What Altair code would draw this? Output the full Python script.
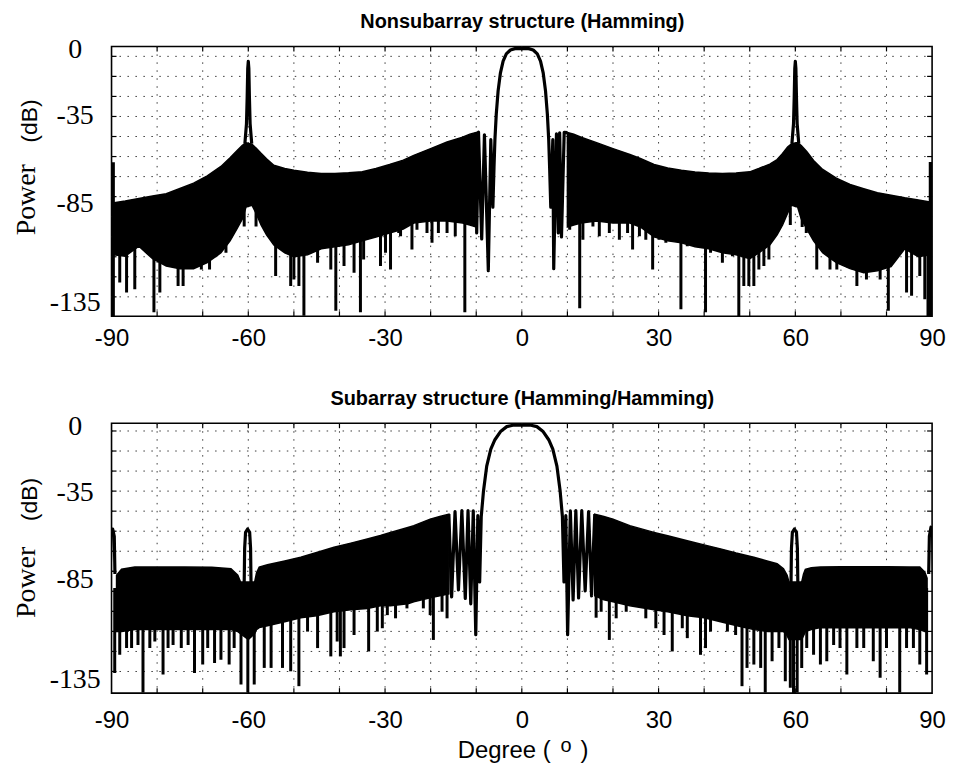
import altair as alt
import pandas as pd

# ---------------- axes ----------------
X_DOMAIN = [-90, 90]
Y_DOMAIN = [-135, 1]
X_LABELS = [-90, -60, -30, 0, 30, 60, 90]
X_GRID = [-80, -70, -60, -50, -40, -30, -20, -10, 0, 10, 20, 30, 40, 50, 60, 70, 80]
Y_LABEL_AT = [-0.8, -34.0, -78.0, -128.0]
Y_LABEL_TEXT = ["0", "-35", "-85", "-135"]
TOP_GRID_DB = [-4.0, -14.1, -24.2, -34.3, -44.4, -54.5, -64.6, -74.7, -84.8, -94.9, -105.0, -115.1, -125.2]
BOT_GRID_DB = [-2.9, -13.0, -23.1, -33.2, -43.3, -53.4, -63.5, -73.6, -83.7, -93.8, -103.9, -114.0, -124.1]

TITLE_TOP = "Nonsubarray structure (Hamming)"
TITLE_BOT = "Subarray structure (Hamming/Hamming)"

# ---------------- nonsubarray pattern ----------------
# dense sidelobe region: upper envelope and lower edge of the solid band
TOP_L_DEG = [-89.4, -87, -84, -81, -78, -75, -72, -69, -66, -64, -62.5, -61.3, -60.5, -59.2, -58.3, -57.2,
             -56, -54.4, -52, -50, -47, -44, -41, -38, -35, -32, -29, -26, -23.7, -20, -16.4, -13, -11.4, -10]
TOP_L_ENV = [-77.8, -76.9, -75.6, -74.4, -73.2, -70.6, -67.9, -64.2, -59.5, -55.1, -51.6, -48.8, -47.6, -48.3,
             -50.2, -52.9, -55.6, -58.9, -60.5, -61.4, -62.4, -63, -63, -62.7, -62.1, -60.5, -58.5, -56.3,
             -53.9, -50.5, -47.2, -44.8, -43.2, -42.4]
TOP_L_FLOOR = [-104, -104.7, -99.7, -106, -109.7, -111, -111, -108, -103, -97, -91, -86, -80, -79, -83, -89,
               -94, -99, -103, -105, -104, -101, -100, -99, -97, -95, -93, -91, -88, -87, -87, -88, -89, -90]
TOP_R_DEG = [10, 11.4, 13, 16.4, 20, 23.7, 26, 29, 32, 35, 38, 41, 44, 47, 50, 52, 54.4, 56, 57.2, 58.3,
             59.2, 60.5, 61.3, 62.5, 64, 66, 69, 72, 75, 78, 81, 84, 87, 89.4]
TOP_R_ENV = [-42.4, -43.3, -44.8, -47.5, -50.5, -53.5, -55.5, -58.5, -60.3, -61.4, -62.3, -62.8, -63, -62.8,
             -62.2, -60.5, -58.3, -56, -53, -49.7, -48, -47.5, -49, -52, -56.5, -61, -65.4, -68.6, -70.7,
             -72.7, -74, -75.3, -76.4, -77.4]
TOP_R_FLOOR = [-90, -89, -88, -87, -88, -88, -90, -95, -97, -98, -100, -101, -103, -104, -106, -103, -99,
               -94, -89, -83, -79, -80, -86, -91, -97, -103, -108, -111, -113, -112, -110, -101, -105, -104]

# pattern nulls reaching below the solid band
TOP_NULL_DEG = [-88.2, -86.7, -84.9, -80.7, -79.4, -75.4, -74.3, -70.3, -68.5, -67, -64.9, -60.9, -58.3,
                -54, -50.7, -50, -48.9, -47.8, -44.8, -41.9, -40.8, -39, -36.8, -35.4, -34.7, -31, -29.9,
                -28.8, -27, -26.6, -24.1, -23, -20.8, -19.7, -18.3, -16.4, -14.6, -12.5,
                10.5, 12.7, 13.4, 15.6, 17, 19.2, 21.4, 23.2, 24.3, 25.8, 27.2, 28.7, 30.1, 31.6, 34.9,
                36.3, 38.2, 40.3, 41.4, 44, 45.1, 46.2, 47.6, 48.7, 49.8, 50.9, 52, 53.1, 54.2, 58.9,
                61.5, 62.4, 64.7, 67.6, 69.1, 73.5, 75.6, 78.6, 80.4, 84.4, 85.5, 87.3, 88.4, 89.1]
TOP_NULL_DB = [-118, -123, -121.4, -133, -123, -119.7, -119.7, -111.4, -111.4, -104.7, -103, -89.7, -89.7,
               -114.7, -119.7, -116.4, -119.7, -134.7, -108, -111.4, -132.2, -109.7, -113, -133, -106.4,
               -109.7, -103, -111.4, -93, -94.7, -101.4, -91.4, -93, -98, -93, -93, -94.7, -133,
               -91.4, -131, -96.4, -89.7, -94.7, -93, -96.4, -93, -101.4, -94.7, -96.4, -111.4, -96.4, -98,
               -131.4, -99.7, -99.7, -133, -103, -108, -103, -104.7, -135, -119.7, -119.7, -119.7, -111.4,
               -109.7, -106.4, -89, -90, -93, -111.4, -111.4, -111.4, -119.7, -116.4, -116.4, -132.2, -123,
               -124.7, -114.7, -126.4, -135]

# main beam with the first sidelobes
TOP_BEAM_DEG = [-10.0, -9.9, -9.5, -8.8, -8.2, -7.35, -6.8, -6.35, -6.1, -5.9, -5.6, -5.2, -4.7, -4.1, -3.4,
                -2.5, -1.5, 0, 1.5, 2.5, 3.4, 4.1, 4.7, 5.2, 5.6, 5.9, 6.1, 6.35, 6.8, 7.0, 7.6, 8.0, 8.3,
                8.7, 9.3, 10.0]
TOP_BEAM_DB = [-42.4, -93, -42.2, -96, -43.5, -112, -46, -80, -60, -46, -33, -21.4, -12.5, -6.4, -2.8, -0.8,
               -0.1, 0, -0.1, -0.8, -2.8, -6.4, -12.5, -21.4, -33, -46, -60, -80, -46, -111, -43, -93, -42.5,
               -95, -42.3, -42.4]
# grating lobes near +/-60 degrees
TOP_GL_L_DEG = [-60.75, -60.4, -60.25, -60.12, -60.0, -59.88, -59.75, -59.6, -59.25]
TOP_GL_R_DEG = [59.25, 59.6, 59.75, 59.88, 60.0, 60.12, 60.25, 60.4, 60.75]
TOP_GL_DB = [-48, -38, -25, -10, -6.5, -10, -25, -38, -48]
# endfire lines at +/-90 degrees
TOP_EDGE_DEG = [-89.65, 89.65]
TOP_EDGE_HI = [-57.4, -57.2]
TOP_EDGE_LO = [-135, -135]

# ---------------- subarray pattern ----------------
BOT_L_DEG = [-88.9, -87.8, -84.9, -80, -74, -68, -63.8, -62.3, -61.7, -60, -58.6, -58.2, -57.6, -55.8, -52,
             -48.5, -45, -41.2, -37.5, -33.9, -31, -28.8, -25, -23.7, -20.1, -18, -16]
BOT_L_ENV = [-75.6, -72.6, -71.5, -71.5, -71.5, -71.6, -72.3, -75.6, -79, -79, -79, -74.5, -71.5, -70.3,
             -68.4, -66.5, -64.1, -61.5, -59.4, -57.3, -55.6, -54, -51.5, -50.6, -47.3, -46, -44.8]
BOT_L_FLOOR = [-104, -104, -103, -103, -103, -103, -103, -104, -105, -108, -105, -103, -102, -101, -99, -97,
               -96, -94, -93, -92.3, -91, -91, -90, -89, -87, -86, -85]
BOT_R_DEG = [16, 18, 20, 23.7, 29, 32, 36.3, 40, 43.6, 47, 50.9, 54, 56, 57.4, 58.2, 58.6, 60, 61.4, 61.8,
             62.2, 63.5, 65.5, 70, 75, 80, 85, 87.3, 88.4, 88.9]
BOT_R_ENV = [-44.8, -46, -47.3, -50.6, -54, -55.7, -58.2, -60.3, -62.3, -64.4, -66.5, -68.5, -69.8, -72.3,
             -75.6, -79, -79, -79, -75, -72.6, -71.8, -71.5, -71.3, -71.3, -71.3, -71.4, -71.5, -74, -77]
BOT_R_FLOOR = [-86, -88, -89, -91, -93, -94, -96, -97, -99, -101, -103, -104, -104, -104, -106, -108, -108,
               -108, -106, -104, -103, -102, -102, -102, -102, -102, -103, -104, -104]

BOT_NULL_DEG = [-89.3, -88.2, -86.7, -85.6, -84.2, -83.1, -81.6, -80.5, -78.7, -77.6, -76.5, -74.7, -73.2,
                -71.8, -70, -68.9, -67.4, -66, -64.2, -63.1, -61.6, -60.1, -58.7, -56.5, -55, -52.5, -50.7,
                -48.9, -47, -44.8, -41.9, -40.5, -39.8, -39, -36.8, -33.6, -31.7, -30.6, -29.5, -27.7,
                -25.2, -21.6, -20.1, -19.4, -17.5, -16.4,
                16.3, 17.4, 19.2, 20.7, 22.9, 27.2, 29.4, 31.2, 33, 35.2, 36.3, 39.2, 40.3, 41.4, 45.1,
                46.9, 48.3, 49.4, 50.9, 52.4, 53.4, 54.9, 56.4, 57.8, 58.9, 59.6, 60.4, 61.4, 62.5, 64,
                65.5, 66.9, 68.4, 69.8, 71.3, 73.5, 75, 77.1, 78.6, 80, 82.9, 84.4, 85.9, 87.3, 88.8]
BOT_NULL_DB = [-124.8, -115.7, -112.3, -112.3, -110.7, -134.7, -112.3, -109, -125.6, -112.3, -110.7, -112.3,
               -110.7, -124.8, -120.6, -112.3, -119.8, -118.2, -120.6, -112.3, -130.6, -134.7, -130.6,
               -122.3, -122.3, -122.3, -124, -131.5, -104, -112.3, -116.5, -109, -116.5, -112.3, -105.7,
               -114, -104, -102.3, -95.7, -97.3, -92.3, -92.3, -95.7, -108.2, -94, -97.3,
               -97, -94, -108.2, -97.3, -94, -97.3, -102.3, -105.7, -114, -102.3, -107.3, -115.7, -112.3,
               -104, -104, -105.7, -131.5, -122.3, -120.6, -122.3, -134.7, -119, -112.3, -129, -132.3,
               -135, -134.7, -122.3, -112.3, -115.7, -120.6, -119, -110.7, -112.3, -125.6, -112.3, -112.3,
               -119, -127.3, -112.3, -134.7, -112.3, -112.3, -120.6, -125.6]

BOT_BEAM_DEG = [-16.0, -15.4, -14.65, -13.9, -13.15, -12.4, -11.8, -11.2, -10.65, -10.1, -9.65, -9.25, -8.9,
                -8.4, -7.7, -6.8, -5.9, -4.6, -3.3, -2.0, 0, 2.0, 3.3, 4.6, 5.9, 6.8, 7.7, 8.4, 8.9, 9.25,
                9.65, 10.05, 10.65, 11.25, 11.85, 12.45, 13.15, 13.9, 14.65, 15.3, 16.0]
BOT_BEAM_DB = [-44.8, -86.5, -43.5, -83, -43, -87.3, -43, -90, -43.2, -105.6, -45.6, -79, -46, -33, -20.6,
               -12, -7.3, -3, -0.7, 0, 0, 0, -0.7, -3, -7.3, -12, -20.6, -33, -46, -79, -45.6, -105.6,
               -43.2, -88, -43, -87, -43, -83.5, -43.5, -86, -44.8]
BOT_GL_L_DEG = [-60.9, -60.8, -60.6, -60.15, -59.7, -59.5, -59.4]
BOT_GL_R_DEG = [59.05, 59.15, 59.35, 59.8, 60.25, 60.45, 60.55]
BOT_GL_DB = [-80, -62, -54, -52.3, -54, -62, -80]
BOT_EDGE_L_DEG = [-90.3, -90.1, -89.75, -89.4, -89.25]
BOT_EDGE_L_DB = [-75, -55, -52.3, -56, -75]
BOT_EDGE_R_DEG = [89.25, 89.4, 89.75, 90.1, 90.3]
BOT_EDGE_R_DB = [-75, -56, -51.4, -55, -75]

# ---------------- chart ----------------
W, H = 824, 271
GAP = 107.4                      # space between the two plot frames
MARGIN = dict(left=110, top=43.3, right=21, bottom=77)
XS = alt.Scale(domain=X_DOMAIN, nice=False, zero=False)
YS = alt.Scale(domain=Y_DOMAIN, nice=False, zero=False)
INK = "black"
NBSP3 = "\u00a0\u00a0\u00a0"     # trailing pad that sets negative labels a little to the left


def y_label_expr():
    parts = [f"abs(datum.value - ({p})) < 0.5 ? '{t}'" for p, t in zip(Y_LABEL_AT, Y_LABEL_TEXT)]
    return " : ".join(parts) + " : ''"


def x_axis(pad):
    return alt.Axis(values=X_LABELS, grid=False, ticks=False, domain=False, title=None,
                    labelFont="Liberation Sans", labelFontSize=24, labelColor=INK, labelPadding=pad,
                    labelFlush=False, labelOverlap=False,
                    labelExpr=f"datum.value < 0 ? '-' + abs(datum.value) + '{NBSP3}' : '' + datum.value")


Y_AXIS = alt.Axis(values=Y_LABEL_AT, labelExpr=y_label_expr(), grid=False, ticks=False, domain=False,
                  title=None, labelFont="Liberation Serif", labelFontSize=28, labelColor=INK,
                  labelAlign="center", labelBaseline="middle", labelPadding=37)


def text_layer(txt, x, y, **kw):
    return alt.Chart(pd.DataFrame({"t": [txt]})).mark_text(color=INK, **kw).encode(
        text="t:N", x=alt.value(x), y=alt.value(y))


def page_edge(y):
    # white hairline that fixes the outer extent of the page
    return alt.Chart(pd.DataFrame({"t": [0]})).mark_rule(color="white", strokeWidth=0.5).encode(
        x=alt.value(-MARGIN["left"]), x2=alt.value(W + MARGIN["right"]), y=alt.value(y))


def panel(fill_parts, null_deg, null_db, null_root, pieces, grid_db, title, label_pad,
          power_y, db_y, edges=None, with_xtitle=False, edge_y=None):
    xax = x_axis(label_pad)

    def X(field):
        return alt.X(f"{field}:Q", scale=XS, axis=xax)

    def Y(field):
        return alt.Y(f"{field}:Q", scale=YS, axis=Y_AXIS)

    fill = pd.concat([pd.DataFrame({"deg": d, "env": e, "floor": f, "seg": s})
                      for s, (d, e, f) in enumerate(fill_parts)])
    nulls = pd.DataFrame({"deg": null_deg, "db": null_db})
    trace = pd.concat([pd.DataFrame({"deg": d, "db": v, "piece": k}) for k, (d, v) in enumerate(pieces)])

    dots = dict(color="#3a3a3a", strokeWidth=1, strokeDash=[1.5, 6.5])
    hgrid = alt.Chart(pd.DataFrame({"db": grid_db})).mark_rule(**dots).encode(
        y=Y("db"), x=alt.value(0), x2=alt.value(W))
    vgrid = alt.Chart(pd.DataFrame({"deg": X_GRID})).mark_rule(**dots).encode(
        x=X("deg"), y=alt.value(0), y2=alt.value(H))

    band = alt.Chart(fill).mark_area(color=INK, stroke=INK, strokeWidth=1.5, clip=True).encode(
        x=X("deg"), y=Y("env"), y2="floor:Q", detail="seg:N")
    dips = alt.Chart(nulls).mark_rule(color=INK, strokeWidth=3, clip=True).encode(
        x=X("deg"), y=Y("db"), y2=alt.Y2Datum(null_root))
    lines = alt.Chart(trace).mark_line(color=INK, strokeWidth=3.2, strokeJoin="round", clip=True).encode(
        x=X("deg"), y=Y("db"), detail="piece:N")

    layers = [hgrid, vgrid, band, dips, lines]
    if edges is not None:
        edge_df = pd.DataFrame({"deg": edges[0], "hi": edges[1], "lo": edges[2]})
        layers.append(alt.Chart(edge_df).mark_rule(color=INK, strokeWidth=3.5, clip=True).encode(
            x=X("deg"), y=Y("hi"), y2="lo:Q"))

    xt = pd.DataFrame({"deg": X_GRID})
    yt = pd.DataFrame({"db": grid_db})
    tick = dict(color=INK, strokeWidth=1.2)
    layers += [
        alt.Chart(xt).mark_rule(**tick).encode(x=X("deg"), y=alt.value(H), y2=alt.value(H - 5)),
        alt.Chart(xt).mark_rule(**tick).encode(x=X("deg"), y=alt.value(0), y2=alt.value(5)),
        alt.Chart(yt).mark_rule(**tick).encode(y=Y("db"), x=alt.value(0), x2=alt.value(5)),
        alt.Chart(yt).mark_rule(**tick).encode(y=Y("db"), x=alt.value(W - 5), x2=alt.value(W)),
    ]

    layers += [
        text_layer(title, W / 2 + 0.5, -18.3, font="Liberation Sans", fontWeight="bold", fontSize=20,
                   align="center", baseline="alphabetic"),
        text_layer("Power", -77, power_y, font="Liberation Serif", fontSize=28, angle=270,
                   align="left", baseline="alphabetic"),
        text_layer("(dB)", -75, db_y, font="Liberation Sans", fontSize=23, angle=270,
                   align="left", baseline="alphabetic"),
    ]
    if with_xtitle:
        layers += [
            text_layer("Degree (", 441, 336.3, font="Liberation Sans", fontSize=24, align="right",
                       baseline="alphabetic"),
            text_layer("o", 456.5, 330.3, font="Liberation Sans", fontSize=20, align="center",
                       baseline="alphabetic"),
            text_layer(")", 471, 336.3, font="Liberation Sans", fontSize=24, align="left",
                       baseline="alphabetic"),
        ]
    if edge_y is not None:
        layers.append(page_edge(edge_y))
    return alt.layer(*layers).properties(width=W, height=H)


top = panel(
    [(TOP_L_DEG, TOP_L_ENV, TOP_L_FLOOR), (TOP_R_DEG, TOP_R_ENV, TOP_R_FLOOR)],
    TOP_NULL_DEG, TOP_NULL_DB, -80,
    [(TOP_BEAM_DEG, TOP_BEAM_DB), (TOP_GL_L_DEG, TOP_GL_DB), (TOP_GL_R_DEG, TOP_GL_DB)],
    TOP_GRID_DB, TITLE_TOP, 10, 189.7, 96.7,
    edges=(TOP_EDGE_DEG, TOP_EDGE_HI, TOP_EDGE_LO),
    edge_y=-MARGIN["top"],
)

bottom = panel(
    [(BOT_L_DEG, BOT_L_ENV, BOT_L_FLOOR), (BOT_R_DEG, BOT_R_ENV, BOT_R_FLOOR)],
    BOT_NULL_DEG, BOT_NULL_DB, -82,
    [(BOT_BEAM_DEG, BOT_BEAM_DB), (BOT_GL_L_DEG, BOT_GL_DB), (BOT_GL_R_DEG, BOT_GL_DB),
     (BOT_EDGE_L_DEG, BOT_EDGE_L_DB), (BOT_EDGE_R_DEG, BOT_EDGE_R_DB)],
    BOT_GRID_DB, TITLE_BOT, 15.5, 195.6, 98.3,
    with_xtitle=True,
    edge_y=H + MARGIN["bottom"],
)

chart = alt.vconcat(top, bottom, spacing=GAP, bounds="flush").properties(
    padding=0,
    background="white",
).configure_view(stroke=INK, strokeWidth=1.6)

chart.save("out.html", embed_options={"renderer": "svg", "actions": False})
